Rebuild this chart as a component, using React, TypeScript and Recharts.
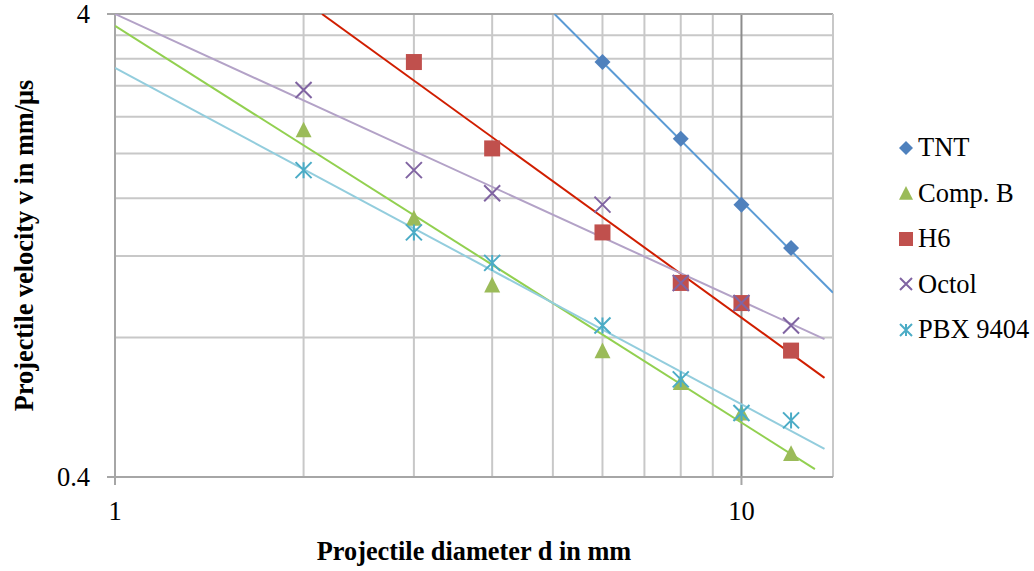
import React from "react"
import {
  ScatterChart,
  Scatter,
  XAxis,
  YAxis,
  ReferenceLine,
  Label,
} from "recharts"

// ── Data ──────────────────────────────────────────────────────────────────────

const diameters = [2, 3, 4, 6, 8, 10, 12]

const tntV    = [null, null, null, 3.15, 2.15, 1.55, 1.25]
const compBV  = [2.25, 1.45, 1.04, 0.75, 0.64, 0.55, 0.45]
const h6V     = [null, 3.15, 2.05, 1.35, 1.05, 0.95, 0.75]
const octolV  = [2.74, 1.84, 1.64, 1.55, 1.05, 0.95, 0.85]
const pbxV    = [1.84, 1.35, 1.16, 0.85, 0.65, 0.55, 0.53]

// trend line end points (power fits are straight on log-log axes)
const tntTrendX   = [5.03, 14]
const tntTrendV   = [4, 1.0]
const compBTrendX = [1, 13.1]
const compBTrendV = [3.77, 0.416]
const h6TrendX    = [2.14, 13.57]
const h6TrendV    = [4, 0.655]
const octolTrendX = [1, 13.57]
const octolTrendV = [4, 0.794]
const pbxTrendX   = [1, 13.57]
const pbxTrendV   = [3.06, 0.46]

const xTicks = [1, 10]
const yTicks = [0.4, 4]
const xMinorGrid = [2, 3, 4, 5, 6, 7, 8, 9]
const yMinorGrid = [0.8, 1.2, 1.6, 2.0, 2.4, 2.8, 3.2, 3.6]

// ── Helpers ───────────────────────────────────────────────────────────────────

const FONT = "'Liberation Serif', 'Times New Roman', serif"

type Pt = { x: number; y: number }

function points(xs: number[], vs: (number | null)[]): Pt[] {
  const out: Pt[] = []
  xs.forEach((x, i) => {
    const v = vs[i]
    if (v != null) out.push({ x, y: v })
  })
  return out
}

type MarkerKind = "diamond" | "triangle" | "square" | "cross" | "star"

function Marker({ kind, cx, cy, color, s = 8 }: { kind: MarkerKind; cx: number; cy: number; color: string; s?: number }) {
  switch (kind) {
    case "diamond":
      return <path d={`M${cx},${cy - s} L${cx + s},${cy} L${cx},${cy + s} L${cx - s},${cy} Z`} fill={color} />
    case "triangle":
      return <path d={`M${cx},${cy - s} L${cx + s},${cy + s * 0.95} L${cx - s},${cy + s * 0.95} Z`} fill={color} />
    case "square":
      return <rect x={cx - s} y={cy - s} width={s * 2} height={s * 2} fill={color} />
    case "cross":
      return (
        <path
          d={`M${cx - s},${cy - s} L${cx + s},${cy + s} M${cx - s},${cy + s} L${cx + s},${cy - s}`}
          stroke={color}
          strokeWidth={2}
          fill="none"
        />
      )
    case "star":
      return (
        <path
          d={`M${cx - s},${cy - s} L${cx + s},${cy + s} M${cx - s},${cy + s} L${cx + s},${cy - s} M${cx},${cy - s} L${cx},${cy + s}`}
          stroke={color}
          strokeWidth={2}
          fill="none"
        />
      )
  }
}

interface Series {
  name: string
  kind: MarkerKind
  color: string
  trendColor: string
  data: Pt[]
  trend: Pt[]
}

const series: Series[] = [
  { name: "TNT",      kind: "diamond",  color: "#4F81BD", trendColor: "#5B9BD5", data: points(diameters, tntV),   trend: points(tntTrendX, tntTrendV) },
  { name: "Comp. B",  kind: "triangle", color: "#9BBB59", trendColor: "#92D050", data: points(diameters, compBV), trend: points(compBTrendX, compBTrendV) },
  { name: "H6",       kind: "square",   color: "#C0504D", trendColor: "#D01E00", data: points(diameters, h6V),    trend: points(h6TrendX, h6TrendV) },
  { name: "Octol",    kind: "cross",    color: "#8064A2", trendColor: "#B3A2C7", data: points(diameters, octolV), trend: points(octolTrendX, octolTrendV) },
  { name: "PBX 9404", kind: "star",     color: "#4BACC6", trendColor: "#93CDDD", data: points(diameters, pbxV),   trend: points(pbxTrendX, pbxTrendV) },
]

// ── Tick ──────────────────────────────────────────────────────────────────────

function Tick({ x, y, payload, anchor, dy }: any) {
  return (
    <text x={x} y={y} dy={dy} textAnchor={anchor} style={{ fontFamily: FONT, fontSize: 26.5, fill: "#000" }}>
      {payload.value}
    </text>
  )
}

// ── Legend ────────────────────────────────────────────────────────────────────

function ChartLegend() {
  return (
    <div style={{ position: "absolute", left: 896, top: 125, color: "#000" }}>
      {series.map((s) => (
        <div key={s.name} style={{ display: "flex", alignItems: "center", height: 45.5 }}>
          <svg width={20} height={20} style={{ marginRight: 2 }}>
            <Marker kind={s.kind} cx={10} cy={10} color={s.color} s={s.kind === "cross" || s.kind === "star" ? 6 : 7} />
          </svg>
          <span style={{ fontFamily: FONT, fontSize: 26.5, lineHeight: "27px" }}>{s.name}</span>
        </div>
      ))}
    </div>
  )
}

// ── Component ─────────────────────────────────────────────────────────────────

export default function App() {
  const grid = "#C8C8C8"
  const axis = "#A6A6A6"
  return (
    <div style={{ position: "absolute", left: 0, top: 0, width: 1034, height: 571, background: "#fff" }}>
      <ScatterChart width={1034} height={571} margin={{ top: 14, right: 201, bottom: 0, left: 0 }}>
        <XAxis
          type="number"
          dataKey="x"
          scale="log"
          domain={[1, 14]}
          ticks={xTicks}
          allowDataOverflow
          height={94}
          tickSize={8}
          tickMargin={16}
          stroke={axis}
          strokeWidth={2}
          tick={<Tick anchor="middle" dy={19} />}
        >
          <Label
            content={({ viewBox }: any) => (
              <text
                x={viewBox.x + viewBox.width / 2}
                y={551}
                textAnchor="middle"
                dominantBaseline="central"
                style={{ fontFamily: FONT, fontSize: 26.3, fontWeight: 700, fill: "#000" }}
              >
                Projectile diameter d in mm
              </text>
            )}
          />
        </XAxis>
        <YAxis
          type="number"
          dataKey="y"
          scale="log"
          domain={[0.4, 4]}
          ticks={yTicks}
          allowDataOverflow
          width={115}
          tickSize={8}
          tickMargin={17}
          stroke={axis}
          strokeWidth={2}
          tick={<Tick anchor="end" dy={9} />}
        >
          <Label
            content={({ viewBox }: any) => {
              const cx = 24
              const cy = viewBox.y + viewBox.height / 2
              return (
                <text
                  x={cx}
                  y={cy}
                  transform={`rotate(-90 ${cx} ${cy})`}
                  textAnchor="middle"
                  dominantBaseline="central"
                  style={{ fontFamily: FONT, fontSize: 26.3, fontWeight: 700, fill: "#000" }}
                >
                  Projectile velocity v in mm/μs
                </text>
              )
            }}
          />
        </YAxis>

        {xMinorGrid.map((v) => (
          <ReferenceLine key={`gx${v}`} x={v} stroke={grid} strokeWidth={2} />
        ))}
        {yMinorGrid.map((v) => (
          <ReferenceLine key={`gy${v}`} y={v} stroke={grid} strokeWidth={2} />
        ))}
        <ReferenceLine x={10} stroke="#8C8C8C" strokeWidth={2} />
        <ReferenceLine y={4} stroke={axis} strokeWidth={2} />
        <ReferenceLine x={14} stroke={grid} strokeWidth={2} />

        {series.map((s) => (
          <Scatter
            key={`t-${s.name}`}
            data={s.trend}
            line={{ stroke: s.trendColor, strokeWidth: 2 }}
            shape={() => <g />}
            isAnimationActive={false}
          />
        ))}
        {series.map((s) => (
          <Scatter
            key={s.name}
            name={s.name}
            data={s.data}
            isAnimationActive={false}
            shape={(p: any) => <Marker kind={s.kind} cx={p.cx} cy={p.cy} color={s.color} />}
          />
        ))}
      </ScatterChart>
      <ChartLegend />
    </div>
  )
}
